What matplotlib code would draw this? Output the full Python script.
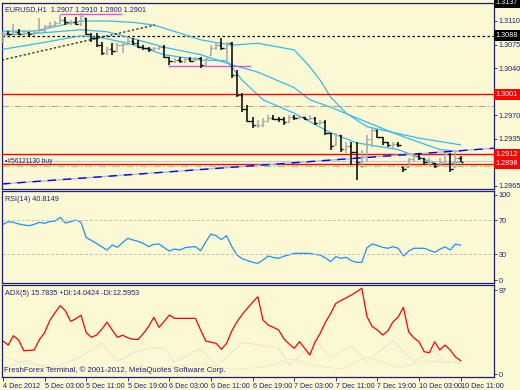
import numpy as np
import matplotlib
matplotlib.use('Agg')
import matplotlib.pyplot as plt

plt.rcParams['font.family'] = ['Liberation Sans', 'DejaVu Sans']

# EURUSD H1, bar values (89 bars)
highs = [1.3094, 1.3095, 1.3106, 1.3098, 1.3097, 1.3094, 1.3097, 1.3114, 1.3104, 1.3109,
         1.3110, 1.3119, 1.3116, 1.3111, 1.3116, 1.3122, 1.3114, 1.3092, 1.3092, 1.3079,
         1.3071, 1.3077, 1.3077, 1.3077, 1.3086, 1.3085, 1.3082, 1.3074, 1.3071, 1.3071,
         1.3074, 1.3074, 1.3057, 1.3055, 1.3057, 1.3055, 1.3057, 1.3057, 1.3057, 1.3055,
         1.3074, 1.3079, 1.3085, 1.3079, 1.3079, 1.3037, 1.3003, 1.2985, 1.2967, 1.2963,
         1.2966, 1.2970, 1.2970, 1.2967, 1.2967, 1.2970, 1.2970, 1.2970, 1.2967, 1.2970,
         1.2967, 1.2963, 1.2963, 1.2944, 1.2944, 1.2941, 1.2930, 1.2930, 1.2930, 1.2918,
         1.2941, 1.2951, 1.2948, 1.2938, 1.2930, 1.2930, 1.2930, 1.2893, 1.2907, 1.2914,
         1.2914, 1.2907, 1.2907, 1.2899, 1.2907, 1.2914, 1.2914, 1.2916, 1.2910]
lows = [1.3077, 1.3089, 1.3092, 1.3089, 1.3089, 1.3088, 1.3089, 1.3092, 1.3094, 1.3100,
        1.3101, 1.3107, 1.3104, 1.3104, 1.3104, 1.3103, 1.3089, 1.3079, 1.3071, 1.3060,
        1.3060, 1.3060, 1.3064, 1.3062, 1.3074, 1.3074, 1.3070, 1.3067, 1.3064, 1.3064,
        1.3067, 1.3055, 1.3045, 1.3048, 1.3048, 1.3048, 1.3049, 1.3051, 1.3040, 1.3042,
        1.3060, 1.3067, 1.3067, 1.3052, 1.3025, 1.2997, 1.2975, 1.2960, 1.2951, 1.2951,
        1.2953, 1.2960, 1.2963, 1.2960, 1.2956, 1.2958, 1.2963, 1.2964, 1.2963, 1.2963,
        1.2956, 1.2956, 1.2941, 1.2918, 1.2926, 1.2915, 1.2914, 1.2896, 1.2874, 1.2892,
        1.2901, 1.2923, 1.2936, 1.2926, 1.2923, 1.2921, 1.2923, 1.2886, 1.2893, 1.2901,
        1.2904, 1.2896, 1.2896, 1.2892, 1.2896, 1.2899, 1.2886, 1.2893, 1.2900]
closes = [1.3092, 1.3091, 1.3094, 1.3091, 1.3095, 1.3090, 1.3093, 1.3096, 1.3102, 1.3104,
          1.3107, 1.3112, 1.3108, 1.3109, 1.3106, 1.3118, 1.3090, 1.3084, 1.3074, 1.3062,
          1.3068, 1.3065, 1.3074, 1.3076, 1.3080, 1.3078, 1.3072, 1.3070, 1.3068, 1.3070,
          1.3071, 1.3057, 1.3050, 1.3052, 1.3050, 1.3053, 1.3051, 1.3055, 1.3045, 1.3055,
          1.3070, 1.3075, 1.3070, 1.3078, 1.3030, 1.3000, 1.2980, 1.2962, 1.2955, 1.2956,
          1.2962, 1.2966, 1.2965, 1.2964, 1.2960, 1.2967, 1.2966, 1.2968, 1.2965, 1.2966,
          1.2958, 1.2960, 1.2944, 1.2925, 1.2940, 1.2920, 1.2925, 1.2915, 1.2900, 1.2910,
          1.2935, 1.2948, 1.2938, 1.2930, 1.2926, 1.2928, 1.2926, 1.2890, 1.2905, 1.2910,
          1.2907, 1.2900, 1.2902, 1.2895, 1.2900, 1.2912, 1.2890, 1.2907, 1.2901]
first_open = 1.3080

# three band lines (cyan), read at a few bars
upper_idx = [0, 6, 15, 20, 25, 29, 34, 38, 44, 49, 56, 59, 61, 63, 66, 70, 80, 88]
upper_val = [1.3095, 1.3095, 1.3110, 1.3110, 1.3108, 1.3104, 1.3092, 1.3082, 1.3074, 1.3077,
             1.3067, 1.3042, 1.3022, 1.2997, 1.2973, 1.2953, 1.2936, 1.2926]
mid_idx = [0, 7, 15, 20, 24, 31, 38, 44, 49, 56, 59, 63, 68, 76, 84, 88]
mid_val = [1.3089, 1.3092, 1.3097, 1.3094, 1.3086, 1.3071, 1.3060, 1.3045, 1.3034, 1.3011,
           1.2993, 1.2982, 1.2966, 1.2941, 1.2919, 1.2916]
low_idx = [0, 7, 15, 19, 24, 31, 38, 43, 46, 50, 56, 63, 68, 76, 84, 88]
low_val = [1.3068, 1.3077, 1.3088, 1.3085, 1.3077, 1.3060, 1.3052, 1.3051, 1.3022, 1.2993,
           1.2973, 1.2944, 1.2929, 1.2919, 1.2896, 1.2901]

# objects on the price chart
lvl_top = 1.3137
lvl_dotted = 1.3088
lvl_red = [1.3001, 1.2912, 1.2898]
lvl_tan = 1.2984
lvl_order = 1.2902
lvl_green = 1.2895
trend_blue_x = [-0.2, 94.4]
trend_blue_y = [1.2868, 1.2921]
trend_black_x = [-0.2, 29.2]
trend_black_y = [1.3052, 1.3104]
magenta_1 = (11, 22.9, 1.3120)
magenta_2 = (31.7, 47.7, 1.3043)
price_ticks = [1.3110, 1.3075, 1.3040, 1.3005, 1.2970, 1.2935, 1.2900, 1.2865]
hidden_ticks = [1.3005, 1.2900]   # covered by the red price boxes

rsi = [65.5, 68.6, 67.8, 66, 64.7, 63.9, 65.5, 67.8, 66.7, 68.6,
       69.4, 73.7, 67, 68.5, 70.6, 67.8, 50, 46.5, 43, 39,
       35.3, 41.2, 38.4, 44, 49, 47, 45.5, 43, 39.2, 42,
       42.4, 38, 34.1, 36.5, 35.3, 38, 38.8, 39.2, 34.5, 45,
       54.1, 52, 47.5, 52.1, 39.2, 29.4, 25, 23, 20.8, 19.6,
       23.5, 28.2, 26.5, 25.5, 28, 29.5, 31.4, 31.4, 31.4, 31.4,
       30, 29.4, 26, 21.6, 27.5, 25.5, 26.7, 22.5, 20.8, 20.8,
       38, 42.4, 40.5, 38.5, 37.3, 39.2, 37.3, 28.2, 34, 37.3,
       37.3, 37.3, 35, 32.6, 36.1, 39, 35.3, 42.4, 40.8]

adx = [38.3, 33.7, 44.4, 39.5, 27.2, 27.5, 28, 40, 48, 62,
       71, 79, 73, 61, 64, 68, 48, 42.6, 45.2, 52,
       60, 51, 42.6, 45, 42, 40.3, 40.3, 47, 55, 65.6,
       54.1, 61, 68.2, 64.4, 64.4, 64.4, 64.4, 64.4, 51, 38.3,
       37, 35.7, 28.8, 35.7, 50, 60.5, 69, 76, 83, 89.3,
       62.5, 56.7, 54, 51, 41, 35, 29.9, 37.5, 30, 22.2,
       37, 47.2, 60, 70, 81.7, 85, 88, 91.3, 95, 99,
       66.3, 55, 51, 45.2, 50, 60.5, 66, 77.1, 49, 42,
       37.5, 26, 24.9, 37.5, 28, 33.7, 28, 20, 15.8]
pdi_idx = [0, 3, 5, 6, 10, 15, 19, 22, 25, 28, 31, 33, 38, 41, 46, 48, 53, 55, 60, 63, 67, 70, 75, 79, 83, 85, 88]
pdi_val = [8, 13, 16.5, 12, 8, 20, 36, 15, 25, 30, 30, 14, 30, 10, 36, 35, 30, 10, 39, 20, 33, 15, 39, 14, 28, 14, 14]
mdi_idx = [0, 5, 10, 15, 19, 25, 31, 38, 44, 50, 55, 60, 65, 70, 76, 82, 88]
mdi_val = [20, 12, 6, 8, 5, 10, 8, 12, 6, 8, 18, 10, 6, 20, 8, 15, 12.6]

date_idx = [0, 8, 16, 24, 32, 40, 48, 56, 64, 72, 80, 88]
date_lbl = ['4 Dec 2012', '5 Dec 03:00', '5 Dec 11:00', '5 Dec 19:00', '6 Dec 03:00', '6 Dec 11:00',
            '6 Dec 19:00', '7 Dec 03:00', '7 Dec 11:00', '7 Dec 19:00', '10 Dec 03:00', '10 Dec 11:00']

bg = '#FBF9D4'
navy = '#1E1E7A'
fs = 5.2

fig = plt.figure(figsize=(5.2, 3.9), dpi=100, facecolor=bg)
ax1 = fig.add_axes([0.0038, 0.5154, 0.946, 0.4769], facecolor=bg)
ax2 = fig.add_axes([0.0038, 0.2744, 0.946, 0.2359], facecolor=bg)
ax3 = fig.add_axes([0.0038, 0.0333, 0.946, 0.2359], facecolor=bg)

for ax in (ax1, ax2, ax3):
    ax.set_xlim(-0.2, 94.4)
    for s in ax.spines.values():
        s.set_color(navy)
        s.set_linewidth(0.9)
    ax.yaxis.tick_right()
    ax.tick_params(axis='y', colors=navy, labelsize=fs, length=2, width=0.6, pad=1.5, labelcolor=navy)
    ax.tick_params(axis='x', bottom=False, labelbottom=False)

# price bars
x = np.arange(len(closes))
opens = np.clip(np.r_[first_open, closes[:-1]], lows, highs)
cl = np.array(closes)
col = np.where(cl >= opens, '#A8A8A8', '#000000')
ax1.vlines(x, lows, highs, colors=col, lw=1.1, zorder=5)
ax1.hlines(opens, x - 0.45, x, colors=col, lw=1.0, zorder=5)
ax1.hlines(cl, x, x + 0.45, colors=col, lw=1.0, zorder=5)

for ix, v in ((upper_idx, upper_val), (mid_idx, mid_val), (low_idx, low_val)):
    ax1.plot(ix, v, color='#33BBEE', lw=0.9, zorder=3)

ax1.axhline(lvl_top, color='#909090', lw=0.8)
ax1.axhline(lvl_dotted, color='black', lw=0.9, ls=(0, (2, 2)))
for v in lvl_red:
    ax1.axhline(v, color='#FF0000', lw=1.0, zorder=4)
ax1.axhline(lvl_tan, color='#C8A27C', lw=0.8, ls=(0, (6, 2, 1, 2)))
ax1.axhline(lvl_order, color='#C8C8C8', lw=0.8)
ax1.axhline(lvl_green, color='#90E080', lw=0.9, ls=(0, (6, 2, 1, 2)))
ax1.plot(trend_blue_x, trend_blue_y, color='#B8B8DC', lw=1.0, zorder=4)
ax1.plot(trend_blue_x, trend_blue_y, color='#0000FF', lw=1.0, ls=(0, (6, 5)), zorder=4)
ax1.plot(trend_black_x, trend_black_y, color='black', lw=0.8, ls=(0, (2, 2)), zorder=4)
for m in (magenta_1, magenta_2):
    ax1.hlines(m[2], m[0], m[1], color='#DD55DD', lw=1.0, zorder=4)

ax1.set_ylim(1.28605, 1.31367)
ax1.set_yticks(price_ticks)
ax1.set_yticklabels(['' if t in hidden_ticks else '%.4f' % t for t in price_ticks])

ytr = ax1.get_yaxis_transform()
for v, fc in ((lvl_top, 'black'), (lvl_dotted, 'black'), (1.3001, '#FF0000'), (1.2912, '#FF0000'), (1.2898, '#FF0000')):
    ax1.text(1.004, v, '%.4f' % v, transform=ytr, fontsize=fs, color='white', va='center', ha='left',
             bbox=dict(boxstyle='square,pad=0.25', fc=fc, ec='none'), clip_on=False, zorder=10)

ax1.text(0.006, 0.985, 'EURUSD,H1  1.2907 1.2910 1.2900 1.2901', transform=ax1.transAxes,
         fontsize=fs, color=navy, va='top', ha='left')
ax1.text(0.006, lvl_order - 0.0001, '\u25aa#56121130 buy', transform=ytr, fontsize=fs - 0.4,
         color=navy, va='center', ha='left', zorder=6)

# RSI
ax2.plot(x, rsi, color='#1E90FF', lw=0.9)
for lv in (70, 30):
    ax2.axhline(lv, color='#BEBEBE', lw=0.7, ls=(0, (3, 2)))
ax2.set_ylim(-3.5, 104.7)
ax2.set_yticks([0, 30, 70, 100])
ax2.text(0.006, 0.95, 'RSI(14) 40.8149', transform=ax2.transAxes, fontsize=fs, color=navy, va='top')

# ADX
ax3.plot(pdi_idx, pdi_val, color='#F5E0D2', lw=0.8)
ax3.plot(mdi_idx, mdi_val, color='#F2EBCB', lw=0.8)
ax3.plot(x, adx, color='#FF0000', lw=0.9)
ax3.set_ylim(-3.1, 102.8)
ax3.set_yticks([0, 97])
ax3.text(0.006, 0.95, 'ADX(5) 15.7835 +DI:14.0424 -DI:12.5953', transform=ax3.transAxes,
         fontsize=fs, color=navy, va='top')
ax3.text(0.004, 0.03, 'FreshForex Terminal, \u00a9 2001-2012, MetaQuotes Software Corp.',
         transform=ax3.transAxes, fontsize=fs + 0.4, color=navy, va='bottom')
ax3.tick_params(axis='x', bottom=True, labelbottom=True, length=3, width=0.6, colors=navy,
                labelsize=fs, pad=1.5)
ax3.set_xticks(date_idx)
ax3.set_xticklabels(date_lbl, ha='left')

fig.savefig('out.png', dpi=100, facecolor=bg)
